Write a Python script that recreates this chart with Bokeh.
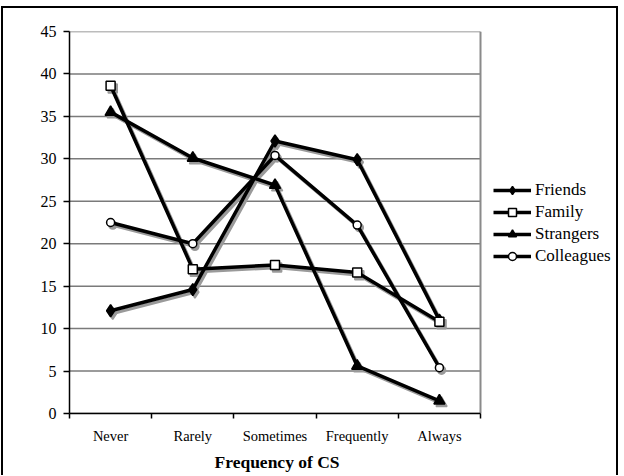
from bokeh.plotting import figure
from bokeh.models import Range1d, FixedTicker, Legend, LegendItem, Title
from bokeh.embed import file_html
from bokeh.resources import INLINE

# Survey results: share of respondents by frequency of code-switching (CS)
categories = ["Never", "Rarely", "Sometimes", "Frequently", "Always"]
friends = [12.1, 14.6, 32.1, 29.9, 11.0]
family = [38.6, 17.0, 17.5, 16.6, 10.8]
strangers = [35.5, 30.1, 26.9, 5.6, 1.5]
colleagues = [22.5, 20.0, 30.4, 22.2, 5.4]
y_ticks = [0, 5, 10, 15, 20, 25, 30, 35, 40, 45]
x_title = "Frequency of CS"

FONT = "'Liberation Serif', serif"
x = [i + 1 for i in range(len(categories))]
x_lo, x_hi = 0.5, len(categories) + 0.5

# the frame runs on to the right edge so the legend can sit beside the plot area
W, H, BORDER = 617, 469, 2
LEFT, RIGHT, TOP, BOTTOM = 66, 0, 23, 64
PX_PER_CAT = 82.2
x_end = x_lo + (W - LEFT - RIGHT) / PX_PER_CAT

p = figure(width=W, height=H, output_backend="svg", toolbar_location=None,
           x_range=Range1d(x_lo, x_end), y_range=Range1d(0, 45),
           min_border_left=LEFT, min_border_right=RIGHT,
           min_border_top=TOP, min_border_bottom=BOTTOM)
p.styles = {"border-left": f"{BORDER}px solid black",
            "border-right": f"{BORDER}px solid black",
            "border-top": f"{BORDER}px solid black",
            "margin-left": "1px", "margin-top": "6px"}
p.background_fill_color = "white"
p.border_fill_color = "white"
p.outline_line_color = None
p.xgrid.grid_line_color = None
p.ygrid.grid_line_color = None

# horizontal gridlines and right-hand edge of the plot area
p.segment(x0=[x_lo] * len(y_ticks), x1=[x_hi] * len(y_ticks), y0=y_ticks, y1=y_ticks,
          line_color="#7a7a7a", line_width=1.5)
p.segment(x0=[x_hi], x1=[x_hi], y0=[y_ticks[0]], y1=[y_ticks[-1]],
          line_color="#8a8a8a", line_width=2)

# y axis
p.yaxis.ticker = FixedTicker(ticks=y_ticks)
p.yaxis.axis_line_color = "black"
p.yaxis.axis_line_width = 1.5
p.yaxis.major_tick_out = 6
p.yaxis.major_tick_in = 0
p.yaxis.major_tick_line_width = 1.5
p.yaxis.minor_tick_line_color = None
p.yaxis.major_label_standoff = 7
p.yaxis.major_label_text_font = FONT
p.yaxis.major_label_text_font_size = "16px"
p.yaxis.major_label_text_color = "black"

# x axis: labels at category centres, ticks on category boundaries
p.xaxis.bounds = (x_lo, x_hi)
p.xaxis.ticker = FixedTicker(ticks=x, minor_ticks=[v - 0.5 for v in x] + [x_hi])
p.xaxis.major_label_overrides = {v: c for v, c in zip(x, categories)}
p.xaxis.axis_line_color = "black"
p.xaxis.axis_line_width = 1.5
p.xaxis.major_tick_out = 0
p.xaxis.major_tick_in = 0
p.xaxis.minor_tick_out = 5
p.xaxis.minor_tick_in = 0
p.xaxis.minor_tick_line_width = 1.5
p.xaxis.minor_tick_line_color = "black"
p.xaxis.major_label_standoff = 9
p.xaxis.major_label_text_font = FONT
p.xaxis.major_label_text_font_size = "14.5px"
p.xaxis.major_label_text_color = "black"

# axis title, centred under the category axis rather than the whole frame
p.add_layout(Title(text=x_title, align="left", offset=145, standoff=6,
                   text_font=FONT, text_font_size="17.5px", text_font_style="bold",
                   text_color="black"), "below")

# drop shadow offset (data units) for every series
SX, SY = 0.026, -0.3
SHADOW = "#9a9a9a"

series = [
    ("Friends", friends, dict(marker="diamond", size=12, fill_color="black")),
    ("Family", family, dict(marker="square", size=9, fill_color="white")),
    ("Strangers", strangers, dict(marker="triangle", size=11, fill_color="black")),
    ("Colleagues", colleagues, dict(marker="circle", size=8, fill_color="white")),
]

for name, ys, mk in series:
    sx = [v + SX for v in x]
    sy = [v + SY for v in ys]
    p.line(sx, sy, line_color=SHADOW, line_width=3.5)
    p.scatter(sx, sy, line_color=SHADOW, fill_color=SHADOW, line_width=1.5,
              **{k: v for k, v in mk.items() if k != "fill_color"})

items = []
for name, ys, mk in series:
    ln = p.line(x, ys, line_color="black", line_width=3.5)
    sc = p.scatter(x, ys, line_color="black", line_width=1.5, **mk)
    items.append(LegendItem(label=name, renderers=[ln, sc]))

legend = Legend(items=items, location=(424, 147), orientation="vertical",
                label_text_font=FONT, label_text_font_size="17px",
                label_text_color="black", glyph_width=38, glyph_height=20,
                label_standoff=4, spacing=2, padding=0, margin=0,
                border_line_color=None, background_fill_color=None)
p.add_layout(legend)

open("out.html", "w").write(file_html(p, INLINE))
